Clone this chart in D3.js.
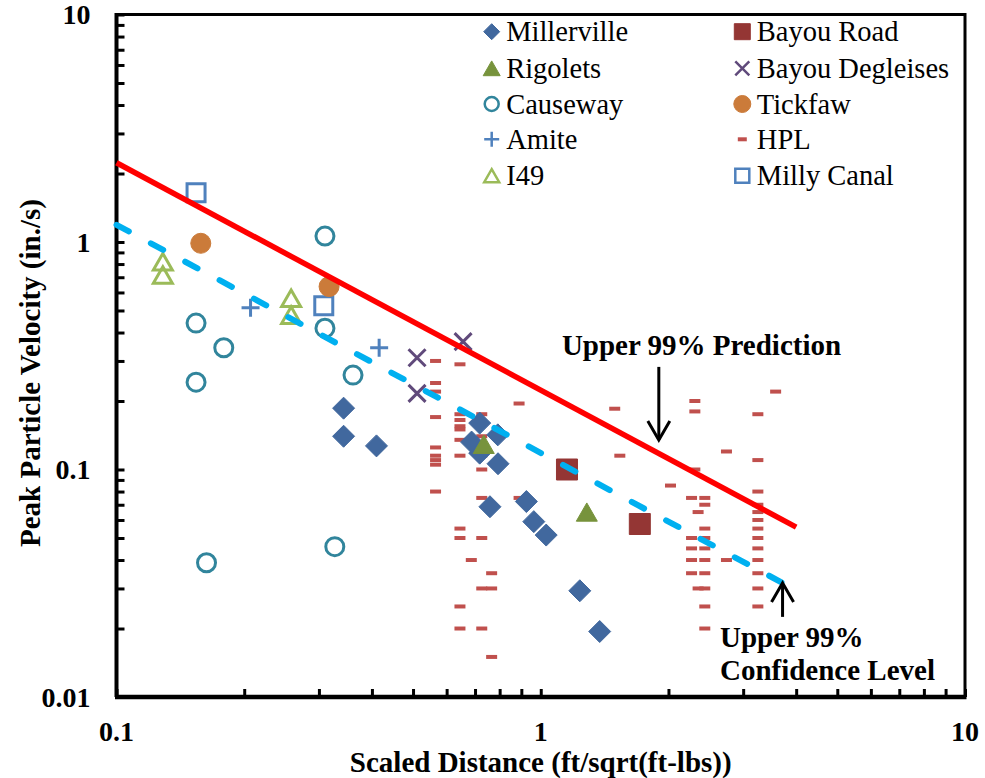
<!DOCTYPE html>
<html><head><meta charset="utf-8">
<script src="https://cdn.jsdelivr.net/npm/d3@7"></script>
<style>body{margin:0;background:#fff}text{font-family:"Liberation Serif","Times New Roman","DejaVu Serif",serif}</style>
</head><body>
<svg id="chart" width="985" height="778"></svg>
<script>
// ---------------- data ----------------
const xTickLabels = [0.1, 1, 10];
const yTickLabels = [0.01, 0.1, 1, 10];

const millervilleX = [0.343,0.343,0.410,0.718,0.792,0.687,0.718,0.793,0.759,0.925,0.963,1.03,1.236,1.377];
const millervilleY = [0.186,0.140,0.127,0.160,0.142,0.132,0.118,0.106,0.0686,0.0723,0.059,0.0515,0.0293,0.0194];
const rigoletsX = [0.734,1.284];
const rigoletsY = [0.129,0.065];
const causewayX = [0.310,0.154,0.179,0.154,0.310,0.361,0.327,0.163];
const causewayY = [1.062,0.440,0.343,0.242,0.418,0.260,0.0458,0.0389];
const amiteX = [0.207,0.416];
const amiteY = [0.514,0.343];
const i49X = [0.1286,0.1286,0.258,0.258];
const i49Y = [0.819,0.716,0.566,0.477];
const bayouRoadX = [1.153,1.712];
const bayouRoadY = [0.100,0.0576];
const bayouDegleisesX = [0.511,0.511,0.656];
const bayouDegleisesY = [0.310,0.216,0.365];
const tickfawX = [0.158,0.317];
const tickfawY = [0.987,0.637];
const millyCanalX = [0.154,0.308];
const millyCanalY = [1.647,0.524];
const hplX = [
  0.565,0.565,0.565,0.565,0.565,0.565,0.565,0.565,0.565,
  0.645,0.645,0.645,0.645,0.645,0.645,0.645,0.645,0.645,0.645,0.645,
  0.686,
  0.726,0.726,0.726,0.726,0.726,0.726,0.726,0.726,
  0.766,0.766,0.766,
  0.889,0.889,
  1.494,1.536,2.022,
  2.308,2.308,2.308,
  2.267,2.267,2.267,2.267,2.267,
  2.349,2.349,
  2.436,2.436,2.436,2.436,2.436,2.436,2.436,2.436,2.436,2.436,
  2.74,2.74,
  3.249,3.249,3.249,3.249,3.249,3.249,3.249,3.249,3.249,3.249,3.249,3.249,3.249,
  3.578];
const hplY = [
  0.30,0.24,0.22,0.17,0.125,0.115,0.11,0.105,0.08,
  0.29,0.175,0.165,0.155,0.15,0.135,0.115,0.055,0.05,0.025,0.02,
  0.04,
  0.175,0.14,0.115,0.10,0.075,0.05,0.03,0.02,
  0.035,0.03,0.015,
  0.195,0.075,
  0.185,0.115,0.085,
  0.20,0.18,0.10,
  0.075,0.05,0.045,0.04,0.035,
  0.065,0.03,
  0.075,0.07,0.055,0.05,0.045,0.04,0.035,0.03,0.025,0.02,
  0.12,0.04,
  0.175,0.11,0.08,0.07,0.065,0.06,0.055,0.05,0.045,0.04,0.035,0.03,0.025,
  0.22];

// fitted bound lines (endpoints)
const predictionX = [0.1, 4.0];
const predictionY = [2.23, 0.0558];
const confidenceX = [0.1, 3.85];
const confidenceY = [1.19, 0.0306];

// ---------------- setup ----------------
const svg = d3.select("#chart");
const L = 116.5, R = 965, T = 14.5, B = 697;
const x = d3.scaleLog().domain([0.1, 10]).range([L, R]);
const y = d3.scaleLog().domain([0.01, 10]).range([B, T]);

const series = [
  {name:"Millerville", xs:millervilleX, ys:millervilleY, shape:"diamond", color:"#41689E", filled:true, size:22, lsize:16},
  {name:"Rigolets", xs:rigoletsX, ys:rigoletsY, shape:"triangle", color:"#77933C", filled:true, size:21, lsize:17},
  {name:"Causeway", xs:causewayX, ys:causewayY, shape:"circle", color:"#31859C", filled:false, size:18, lsize:14},
  {name:"Amite", xs:amiteX, ys:amiteY, shape:"plus", color:"#4F81BD", filled:false, size:18, lsize:15},
  {name:"I49", xs:i49X, ys:i49Y, shape:"triangle", color:"#9BBB59", filled:false, size:19, lsize:15},
  {name:"Bayou Road", xs:bayouRoadX, ys:bayouRoadY, shape:"square", color:"#943634", filled:true, size:21, lsize:16},
  {name:"Bayou Degleises", xs:bayouDegleisesX, ys:bayouDegleisesY, shape:"x", color:"#604A7B", filled:false, size:17, lsize:14},
  {name:"Tickfaw", xs:tickfawX, ys:tickfawY, shape:"circle", color:"#CB7B3A", filled:true, size:20, lsize:17},
  {name:"HPL", xs:hplX, ys:hplY, shape:"dash", color:"#C0504D", filled:true, size:11, lsize:9},
  {name:"Milly Canal", xs:millyCanalX, ys:millyCanalY, shape:"square", color:"#4F81BD", filled:false, size:18, lsize:14}
];

function shapePath(shape, s){
  const h = s/2;
  switch(shape){
    case "diamond": return `M0,${-h}L${h},0L0,${h}L${-h},0Z`;
    case "square": return `M${-h},${-h}H${h}V${h}H${-h}Z`;
    case "triangle": { const th = s*0.87/2; return `M0,${-th}L${h},${th}L${-h},${th}Z`; }
    case "circle": return `M${h},0A${h},${h} 0 1,1 ${-h},0A${h},${h} 0 1,1 ${h},0Z`;
    case "x": return `M${-h},${-h}L${h},${h}M${-h},${h}L${h},${-h}`;
    case "plus": return `M${-h},0L${h},0M0,${-h}L0,${h}`;
    case "dash": return `M${-h},-2H${h}V2H${-h}Z`;
  }
}
function styleMarker(sel, d){
  if (d.shape === "x" || d.shape === "plus") {
    sel.attr("fill","none").attr("stroke",d.color).attr("stroke-width",3);
  } else if (d.filled) {
    sel.attr("fill",d.color).attr("stroke", d.shape==="dash" ? "none" : d.color).attr("stroke-width",1);
  } else {
    sel.attr("fill","none").attr("stroke",d.color).attr("stroke-width",3);
  }
}

// ---------------- axes ----------------
const minorX = [];
[0.1,1].forEach(b => { for (let k=2;k<=9;k++) minorX.push(b*k); });
const minorY = [];
[0.01,0.1,1].forEach(b => { for (let k=2;k<=9;k++) minorY.push(b*k); });

const gx = svg.append("g").attr("transform",`translate(0,${B})`)
  .call(d3.axisBottom(x).tickValues(minorX.concat(xTickLabels)).tickSize(-8).tickFormat(""));
const gy = svg.append("g").attr("transform",`translate(${L},0)`)
  .call(d3.axisLeft(y).tickValues(minorY.concat(yTickLabels)).tickSize(-8).tickFormat(""));
[gx, gy].forEach(g => {
  g.select(".domain").remove();
  g.selectAll(".tick line").attr("stroke","#000").attr("stroke-width",3);
});

// frame
svg.append("path").attr("d",`M${L},${B}V${T}H${R}V${B}`).attr("fill","none").attr("stroke","#000").attr("stroke-width",3);
svg.append("line").attr("x1",L-1.5).attr("x2",R+1.5).attr("y1",B).attr("y2",B).attr("stroke","#000").attr("stroke-width",4.5);
svg.append("line").attr("x1",L).attr("x2",L).attr("y1",T-1.5).attr("y2",B).attr("stroke","#000").attr("stroke-width",4);

const fam = '"Liberation Serif","Times New Roman","DejaVu Serif",serif';
// tick labels
svg.append("g").selectAll("text").data(xTickLabels).join("text")
  .attr("x", d => x(d)).attr("y", B+44).attr("text-anchor","middle").attr("font-family",fam)
  .attr("font-size",28).attr("font-weight","bold").text(d => d3.format("~g")(d));
svg.append("g").selectAll("text").data(yTickLabels).join("text")
  .attr("x", L-26).attr("y", d => y(d)+9.5).attr("text-anchor","end").attr("font-family",fam)
  .attr("font-size",28).attr("font-weight","bold").text(d => d3.format("~g")(d));

// axis titles
svg.append("text").attr("x",(L+R)/2).attr("y",772).attr("text-anchor","middle").attr("font-family",fam)
  .attr("font-size",29).attr("font-weight","bold").text("Scaled Distance (ft/sqrt(ft-lbs))");
svg.append("text").attr("transform","translate(40,373) rotate(-90)").attr("text-anchor","middle").attr("font-family",fam)
  .attr("font-size",29).attr("font-weight","bold").text("Peak Particle Velocity (in./s)");

// ---------------- points ----------------
const plot = svg.append("g");
const order = ["HPL","Causeway","I49","Milly Canal","Amite","Tickfaw","Bayou Degleises","Millerville","Rigolets","Bayou Road"];
order.forEach(nm => {
  const s = series.find(d => d.name===nm);
  const pts = s.xs.map((v,i) => [v, s.ys[i]]);
  plot.append("g").selectAll("path").data(pts).join("path")
    .attr("transform", p => `translate(${x(p[0])},${y(p[1])})`)
    .attr("d", shapePath(s.shape, s.size))
    .each(function(){ styleMarker(d3.select(this), s); });
});

// ---------------- bound lines ----------------
const line = d3.line().x(d => x(d[0])).y(d => y(d[1]));
svg.append("path").datum(confidenceX.map((v,i)=>[v,confidenceY[i]]))
  .attr("d", line).attr("fill","none").attr("stroke","#00B0F0").attr("stroke-width",6)
  .attr("stroke-linecap","round").attr("stroke-dasharray","14,25");
svg.append("path").datum(predictionX.map((v,i)=>[v,predictionY[i]]))
  .attr("d", line).attr("fill","none").attr("stroke","#FF0000").attr("stroke-width",5.5);

// ---------------- annotations ----------------
const annPredX = 1.898, annPredTop = 0.2825, annPredTip = 0.1348;
const annConfX = 3.715, annConfTip = 0.0317, annConfBottom = 0.0225;
function arrow(x1,y1,x2,y2){
  const g = svg.append("g").attr("stroke","#000").attr("stroke-width",3).attr("fill","none");
  g.append("line").attr("x1",x1).attr("y1",y1).attr("x2",x2).attr("y2",y2);
  const dir = y2>y1 ? -1 : 1;
  g.append("path").attr("d",`M${x2-11},${y2+dir*19}L${x2},${y2}L${x2+11},${y2+dir*19}`);
}
arrow(x(annPredX), y(annPredTop), x(annPredX), y(annPredTip));
arrow(x(annConfX), y(annConfBottom), x(annConfX), y(annConfTip));

svg.append("text").attr("x", x(2.393)).attr("y", y(0.3187)).attr("text-anchor","middle").attr("font-family",fam)
  .attr("font-size",29).attr("font-weight","bold").text("Upper 99% Prediction");
const ct = svg.append("text").attr("x", x(2.645)).attr("y", y(0.01654)).attr("font-family",fam)
  .attr("font-size",29).attr("font-weight","bold");
ct.append("tspan").attr("x", x(2.645)).text("Upper 99%");
ct.append("tspan").attr("x", x(2.645)).attr("dy",33).text("Confidence Level");

// ---------------- legend ----------------
const legCols = [[0,1,2,3,4],[5,6,7,8,9]];
const legColX = [491.7, 742.3];
const legRowY = [31.7, 68.3, 104, 139.3, 175.7];
const leg = svg.append("g");
legCols.forEach((col, ci) => {
  col.forEach((si, ri) => {
    const s = series[si];
    const cy = legRowY[ri];
    const m = leg.append("path").attr("transform",`translate(${legColX[ci]},${cy})`)
      .attr("d", shapePath(s.shape, s.lsize));
    styleMarker(m, s);
    if (s.shape==="x" || s.shape==="plus" || !s.filled) m.attr("stroke-width",2.5);
    leg.append("text").attr("x", legColX[ci]+14.5).attr("y", cy+9.5).attr("font-family",fam)
      .attr("font-size",28.5).text(s.name);
  });
});
</script>
</body></html>
